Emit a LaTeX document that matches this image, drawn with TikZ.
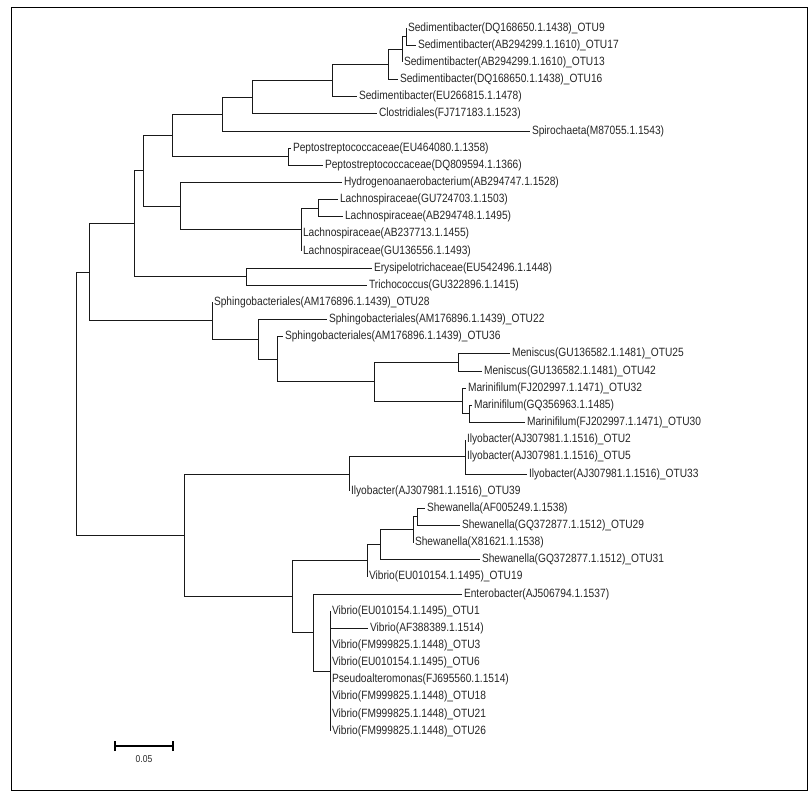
\documentclass[tikz,border=0pt]{standalone}
\usepackage{fontspec}
\newfontfamily\lblfont[FakeStretch=0.85]{Liberation Sans}
\newcommand\lblf{\lblfont\fontsize{12}{13}\selectfont}
\begin{document}
\begin{tikzpicture}[x=1pt,y=-1pt,
  br/.style={draw=black!90, line width=0.8pt},
  leaf/.style={anchor=west, inner sep=1.8pt, font=\lblf, text=black!85}]
\useasboundingbox (0,0) rectangle (811,793);
\draw[line width=0.9pt] (11,7) rectangle (807,790);
% leaves
\node[leaf] (l0) at (406,{28+17.15*0}) {Sedimentibacter(DQ168650.1.1438)\_OTU9};
\node[leaf] (l1) at (416,{28+17.15*1}) {Sedimentibacter(AB294299.1.1610)\_OTU17};
\node[leaf] (l2) at (402,{28+17.15*2}) {Sedimentibacter(AB294299.1.1610)\_OTU13};
\node[leaf] (l3) at (398,{28+17.15*3}) {Sedimentibacter(DQ168650.1.1438)\_OTU16};
\node[leaf] (l4) at (357,{28+17.15*4}) {Sedimentibacter(EU266815.1.1478)};
\node[leaf] (l5) at (377,{28+17.15*5}) {Clostridiales(FJ717183.1.1523)};
\node[leaf] (l6) at (530,{28+17.15*6}) {Spirochaeta(M87055.1.1543)};
\node[leaf] (l7) at (291,{28+17.15*7}) {Peptostreptococcaceae(EU464080.1.1358)};
\node[leaf] (l8) at (323,{28+17.15*8}) {Peptostreptococcaceae(DQ809594.1.1366)};
\node[leaf] (l9) at (342,{28+17.15*9}) {Hydrogenoanaerobacterium(AB294747.1.1528)};
\node[leaf] (l10) at (338,{28+17.15*10}) {Lachnospiraceae(GU724703.1.1503)};
\node[leaf] (l11) at (343,{28+17.15*11}) {Lachnospiraceae(AB294748.1.1495)};
\node[leaf] (l12) at (301,{28+17.15*12}) {Lachnospiraceae(AB237713.1.1455)};
\node[leaf] (l13) at (301,{28+17.15*13}) {Lachnospiraceae(GU136556.1.1493)};
\node[leaf] (l14) at (372,{28+17.15*14}) {Erysipelotrichaceae(EU542496.1.1448)};
\node[leaf] (l15) at (367,{28+17.15*15}) {Trichococcus(GU322896.1.1415)};
\node[leaf] (l16) at (212,{28+17.15*16}) {Sphingobacteriales(AM176896.1.1439)\_OTU28};
\node[leaf] (l17) at (327,{28+17.15*17}) {Sphingobacteriales(AM176896.1.1439)\_OTU22};
\node[leaf] (l18) at (283,{28+17.15*18}) {Sphingobacteriales(AM176896.1.1439)\_OTU36};
\node[leaf] (l19) at (510,{28+17.15*19}) {Meniscus(GU136582.1.1481)\_OTU25};
\node[leaf] (l20) at (482,{28+17.15*20}) {Meniscus(GU136582.1.1481)\_OTU42};
\node[leaf] (l21) at (466,{28+17.15*21}) {Marinifilum(FJ202997.1.1471)\_OTU32};
\node[leaf] (l22) at (472,{28+17.15*22}) {Marinifilum(GQ356963.1.1485)};
\node[leaf] (l23) at (525,{28+17.15*23}) {Marinifilum(FJ202997.1.1471)\_OTU30};
\node[leaf] (l24) at (465,{28+17.15*24}) {Ilyobacter(AJ307981.1.1516)\_OTU2};
\node[leaf] (l25) at (465,{28+17.15*25}) {Ilyobacter(AJ307981.1.1516)\_OTU5};
\node[leaf] (l26) at (527,{28+17.15*26}) {Ilyobacter(AJ307981.1.1516)\_OTU33};
\node[leaf] (l27) at (349,{28+17.15*27}) {Ilyobacter(AJ307981.1.1516)\_OTU39};
\node[leaf] (l28) at (425,{28+17.15*28}) {Shewanella(AF005249.1.1538)};
\node[leaf] (l29) at (460,{28+17.15*29}) {Shewanella(GQ372877.1.1512)\_OTU29};
\node[leaf] (l30) at (413,{28+17.15*30}) {Shewanella(X81621.1.1538)};
\node[leaf] (l31) at (480,{28+17.15*31}) {Shewanella(GQ372877.1.1512)\_OTU31};
\node[leaf] (l32) at (367,{28+17.15*32}) {Vibrio(EU010154.1.1495)\_OTU19};
\node[leaf] (l33) at (462,{28+17.15*33}) {Enterobacter(AJ506794.1.1537)};
\node[leaf] (l34) at (330,{28+17.15*34}) {Vibrio(EU010154.1.1495)\_OTU1};
\node[leaf] (l35) at (368,{28+17.15*35}) {Vibrio(AF388389.1.1514)};
\node[leaf] (l36) at (330,{28+17.15*36}) {Vibrio(FM999825.1.1448)\_OTU3};
\node[leaf] (l37) at (330,{28+17.15*37}) {Vibrio(EU010154.1.1495)\_OTU6};
\node[leaf] (l38) at (330,{28+17.15*38}) {Pseudoalteromonas(FJ695560.1.1514)};
\node[leaf] (l39) at (330,{28+17.15*39}) {Vibrio(FM999825.1.1448)\_OTU18};
\node[leaf] (l40) at (330,{28+17.15*40}) {Vibrio(FM999825.1.1448)\_OTU21};
\node[leaf] (l41) at (330,{28+17.15*41}) {Vibrio(FM999825.1.1448)\_OTU26};
% internal nodes
\coordinate (n917) at (406,36.58);
\coordinate (n13) at (402,49.44);
\coordinate (n16) at (388,64.44);
\coordinate (nEU) at (332,80.52);
\coordinate (nCl) at (252,97.14);
\coordinate (nSp) at (222,114.02);
\coordinate (nPe) at (288,156.63);
\coordinate (c1) at (172,135.32);
\coordinate (nLs) at (318,208.08);
\coordinate (nLc) at (301,229.51);
\coordinate (nH) at (180,205.93);
\coordinate (c2) at (143,170.63);
\coordinate (nE) at (246,276.68);
\coordinate (u1) at (134,223.65);
\coordinate (nMar2) at (469,413.88);
\coordinate (nMar) at (462,401.01);
\coordinate (nMen) at (458,362.43);
\coordinate (nM) at (374,381.72);
\coordinate (s3) at (277,359.21);
\coordinate (s2) at (258,339.38);
\coordinate (s) at (212,320.89);
\coordinate (u) at (89,272.27);
\coordinate (isub) at (465,456.75);
\coordinate (ily) at (349,473.9);
\coordinate (sh4) at (417,516.78);
\coordinate (sh3) at (413,529.64);
\coordinate (sh2) at (380,544.65);
\coordinate (sh) at (367,560.72);
\coordinate (vp) at (330,671.13);
\coordinate (vb1) at (313,632.54);
\coordinate (v) at (292,596.63);
\coordinate (lo) at (184,535.27);
\coordinate (root) at (76,403.77);
% branches
\draw[br] (n917) |- (l0.west); \draw[br] (n917) |- (l1.west);
\draw[br] (n13) |- (n917); \draw[br] (n13) |- (l2.west);
\draw[br] (n16) |- (n13); \draw[br] (n16) |- (l3.west);
\draw[br] (nEU) |- (n16); \draw[br] (nEU) |- (l4.west);
\draw[br] (nCl) |- (nEU); \draw[br] (nCl) |- (l5.west);
\draw[br] (nSp) |- (nCl); \draw[br] (nSp) |- (l6.west);
\draw[br] (nPe) |- (l7.west); \draw[br] (nPe) |- (l8.west);
\draw[br] (c1) |- (nSp); \draw[br] (c1) |- (nPe);
\draw[br] (nLs) |- (l10.west); \draw[br] (nLs) |- (l11.west);
\draw[br] (nLc) |- (nLs); \draw[br] (nLc) |- (l12.west); \draw[br] (nLc) |- (l13.west);
\draw[br] (nH) |- (l9.west); \draw[br] (nH) |- (nLc);
\draw[br] (c2) |- (c1); \draw[br] (c2) |- (nH);
\draw[br] (nE) |- (l14.west); \draw[br] (nE) |- (l15.west);
\draw[br] (u1) |- (c2); \draw[br] (u1) |- (nE);
\draw[br] (nMar2) |- (l22.west); \draw[br] (nMar2) |- (l23.west);
\draw[br] (nMar) |- (l21.west); \draw[br] (nMar) |- (nMar2);
\draw[br] (nMen) |- (l19.west); \draw[br] (nMen) |- (l20.west);
\draw[br] (nM) |- (nMen); \draw[br] (nM) |- (nMar);
\draw[br] (s3) |- (l18.west); \draw[br] (s3) |- (nM);
\draw[br] (s2) |- (l17.west); \draw[br] (s2) |- (s3);
\draw[br] (s) |- (l16.west); \draw[br] (s) |- (s2);
\draw[br] (u) |- (u1); \draw[br] (u) |- (s);
\draw[br] (isub) |- (l24.west); \draw[br] (isub) |- (l25.west); \draw[br] (isub) |- (l26.west);
\draw[br] (ily) |- (isub); \draw[br] (ily) |- (l27.west);
\draw[br] (sh4) |- (l28.west); \draw[br] (sh4) |- (l29.west);
\draw[br] (sh3) |- (sh4); \draw[br] (sh3) |- (l30.west);
\draw[br] (sh2) |- (sh3); \draw[br] (sh2) |- (l31.west);
\draw[br] (sh) |- (sh2); \draw[br] (sh) |- (l32.west);
\foreach \k in {34,...,41} {\draw[br] (vp) |- (l\k.west);}
\draw[br] (vb1) |- (l33.west); \draw[br] (vb1) |- (vp);
\draw[br] (v) |- (sh); \draw[br] (v) |- (vb1);
\draw[br] (lo) |- (ily); \draw[br] (lo) |- (v);
\draw[br] (root) |- (u); \draw[br] (root) |- (lo);
% scale bar
\coordinate (sbl) at (115,746);
\coordinate (sbr) at (173,746);
\draw[line width=1.6pt] (sbl) -- (sbr);
\draw[line width=1.2pt] ([yshift=-5pt]sbl) -- ([yshift=5pt]sbl);
\draw[line width=1.2pt] ([yshift=-5pt]sbr) -- ([yshift=5pt]sbr);
\node[font=\lblfont\fontsize{10}{11}\selectfont, text=black!85] (sbt) at (144,759) {0.05};
\end{tikzpicture}
\end{document}
